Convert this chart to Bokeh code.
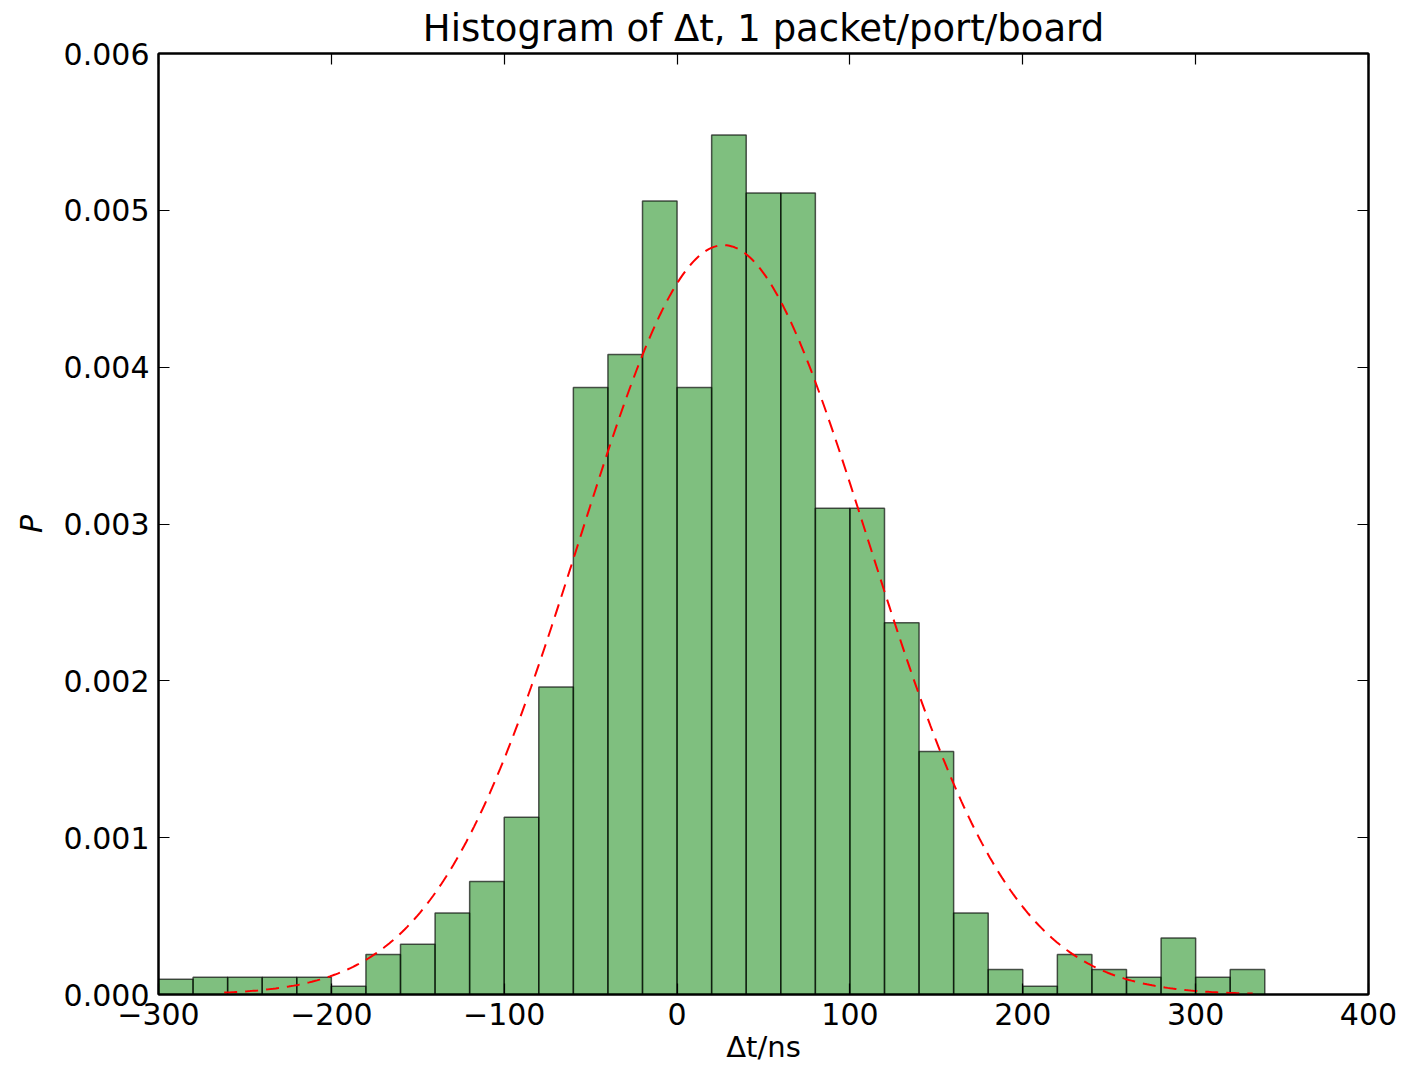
import numpy as np
from bokeh.plotting import figure
from bokeh.models import ColumnDataSource, LinearAxis, Range1d, FixedTicker, NumeralTickFormatter
from bokeh.embed import file_html
from bokeh.resources import INLINE

# ---- data ----
bin_edges = [-300, -280, -260, -240, -220, -200, -180, -160, -140, -120, -100,
             -80, -60, -40, -20, 0, 20, 40, 60, 80, 100, 120, 140, 160, 180,
             200, 220, 240, 260, 280, 300, 320, 340]
density = [0.000097, 0.000110, 0.000110, 0.000110, 0.000110, 0.000052,
           0.000255, 0.000320, 0.000520, 0.000720, 0.001130, 0.001960,
           0.003870, 0.004080, 0.005060, 0.003870, 0.005480, 0.005110,
           0.005110, 0.003100, 0.003100, 0.002370, 0.001550, 0.000520,
           0.000160, 0.000052, 0.000255, 0.000160, 0.000110, 0.000360,
           0.000110, 0.000160]

# fitted normal distribution drawn as the dashed curve
fit_mu = 27.0
fit_sigma = 83.5
fit_x_min = -262.0
fit_x_max = 333.0

x_ticks = [-300, -200, -100, 0, 100, 200, 300, 400]
x_tick_labels = ["\u2212300", "\u2212200", "\u2212100", "0", "100", "200", "300", "400"]
y_ticks = [0.0, 0.001, 0.002, 0.003, 0.004, 0.005, 0.006]

title_text = "Histogram of \u0394t, 1 packet/port/board"
x_label = "\u0394t/ns"
y_label = "P"

# ---- build ----
bars = ColumnDataSource(dict(left=bin_edges[:-1], right=bin_edges[1:],
                             top=density, bottom=[0.0] * len(density)))

fx = np.linspace(fit_x_min, fit_x_max, 400)
fy = np.exp(-0.5 * ((fx - fit_mu) / fit_sigma) ** 2) / (fit_sigma * np.sqrt(2 * np.pi))
curve = ColumnDataSource(dict(x=fx, y=fy))

FONT = "DejaVu Sans"

p = figure(frame_width=1210, frame_height=941,
           x_range=Range1d(-300, 400), y_range=Range1d(0, 0.006),
           output_backend="svg", toolbar_location=None,
           min_border_left=158, min_border_right=35,
           min_border_top=53, min_border_bottom=60,
           background_fill_color="white", border_fill_color="white")

p.title.text = title_text
p.title.align = "center"
p.title.text_font = FONT
p.title.text_font_size = "37px"
p.title.text_font_style = "normal"
p.title.text_color = "black"
p.title.standoff = 7

p.quad(left="left", right="right", top="top", bottom="bottom", source=bars,
       fill_color="green", fill_alpha=0.5, line_color="black", line_alpha=0.65,
       line_width=1.5)

p.line("x", "y", source=curve, line_color="red", line_width=2,
       line_dash="13 8")

p.xgrid.visible = False
p.ygrid.visible = False
p.outline_line_color = "black"
p.outline_line_width = 2

def style_axis(ax, show_labels, ticks):
    ax.axis_line_color = "black"
    ax.axis_line_width = 2
    ax.major_tick_in = 11
    ax.major_tick_out = 0
    ax.major_tick_line_color = "black"
    ax.major_tick_line_width = 1.2
    ax.minor_tick_in = 0
    ax.minor_tick_out = 0
    if show_labels:
        ax.major_label_text_font = FONT
        ax.major_label_text_font_size = "30px"
        ax.major_label_text_color = "black"
    else:
        ax.major_label_overrides = {t: "" for t in ticks}
        ax.major_label_text_font_size = "1px"
        ax.major_label_standoff = 0

xax = p.xaxis[0]
xax.ticker = FixedTicker(ticks=x_ticks)
xax.major_label_overrides = {t: l for t, l in zip(x_ticks, x_tick_labels)}
style_axis(xax, True, x_ticks)
xax.major_label_standoff = 8
xax.axis_label = x_label
xax.axis_label_text_font = FONT
xax.axis_label_text_font_size = "29px"
xax.axis_label_text_font_style = "normal"
xax.axis_label_text_color = "black"
xax.axis_label_standoff = 2

yax = p.yaxis[0]
yax.ticker = FixedTicker(ticks=y_ticks)
yax.formatter = NumeralTickFormatter(format="0.000")
style_axis(yax, True, y_ticks)
yax.major_label_standoff = 9
yax.axis_label = y_label
yax.axis_label_text_font = FONT
yax.axis_label_text_font_size = "30px"
yax.axis_label_text_font_style = "italic"
yax.axis_label_text_color = "black"
yax.axis_label_standoff = 12

top_ax = LinearAxis(ticker=FixedTicker(ticks=x_ticks))
style_axis(top_ax, False, x_ticks)
p.add_layout(top_ax, "above")
right_ax = LinearAxis(ticker=FixedTicker(ticks=y_ticks))
style_axis(right_ax, False, y_ticks)
p.add_layout(right_ax, "right")

open("out.html", "w").write(file_html(p, INLINE))
